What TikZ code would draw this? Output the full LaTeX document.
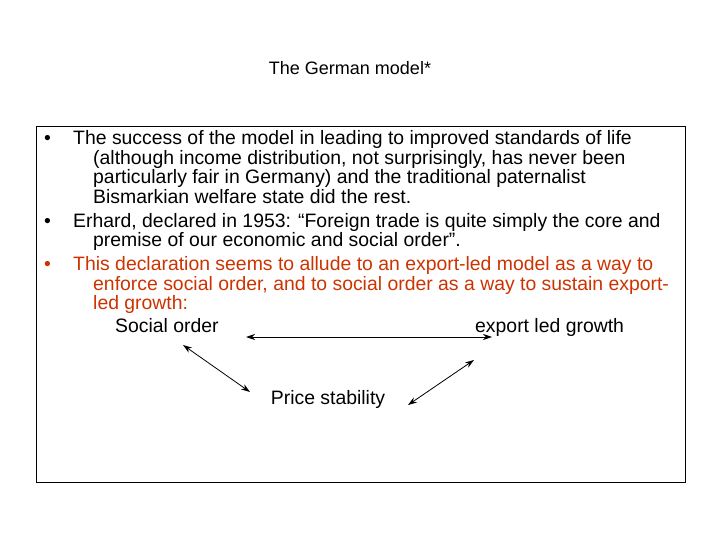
\documentclass[tikz,border=0pt]{standalone}
\usepackage{fontspec}
\setmainfont{Liberation Sans}
\usetikzlibrary{arrows.meta}
\definecolor{redtxt}{RGB}{204,51,0}
\begin{document}
\begin{tikzpicture}[x=1pt,y=-1pt,
  txt/.style={anchor=base west,inner sep=0pt,font=\fontsize{19.4}{20}\selectfont},
  dbl/.style={{Stealth[length=9pt,width=6pt]}-{Stealth[length=9pt,width=6pt]},line width=0.8pt}]
\useasboundingbox (0,0) rectangle (720,540);
\node[txt,anchor=base,font=\fontsize{18}{20}\selectfont] (title) at (350,75) {The German model*};
\draw[line width=0.6pt] (36,126) rectangle (685,482);
\node[txt] (b1) at (44,145) {•};
\node[txt] (l1) at (73,145) {The success of the model in leading to improved standards of life};
\node[txt] (l2) at (93,165) {(although income distribution, not surprisingly, has never been};
\node[txt] (l3) at (93,184) {particularly fair in Germany) and the traditional paternalist};
\node[txt] (l4) at (93,204) {Bismarkian welfare state did the rest.};
\node[txt] (b2) at (44,227) {•};
\node[txt] (l5) at (73,227) {Erhard, declared in 1953: “Foreign trade is quite simply the core and};
\node[txt] (l6) at (93,247) {premise of our economic and social order”.};
\node[txt,text=redtxt] (b3) at (44,270) {•};
\node[txt,text=redtxt] (l7) at (73,270) {This declaration seems to allude to an export-led model as a way to};
\node[txt,text=redtxt] (l8) at (93,290) {enforce social order, and to social order as a way to sustain export-};
\node[txt,text=redtxt] (l9) at (93,309) {led growth:};
\node[txt] (so) at (115,332) {Social order};
\node[txt] (elg) at (475,332) {export led growth};
\node[txt,anchor=base] (ps) at (328,404) {Price stability};
\coordinate (h1) at (246,337);
\coordinate (h2) at (492,337);
\coordinate (d1) at (183,345);
\coordinate (d2) at (250,392);
\coordinate (e1) at (408,405);
\coordinate (e2) at (474,360);
\draw[dbl] (h1) -- (h2);
\draw[dbl] (d1) -- (d2);
\draw[dbl] (e1) -- (e2);
\end{tikzpicture}
\end{document}
